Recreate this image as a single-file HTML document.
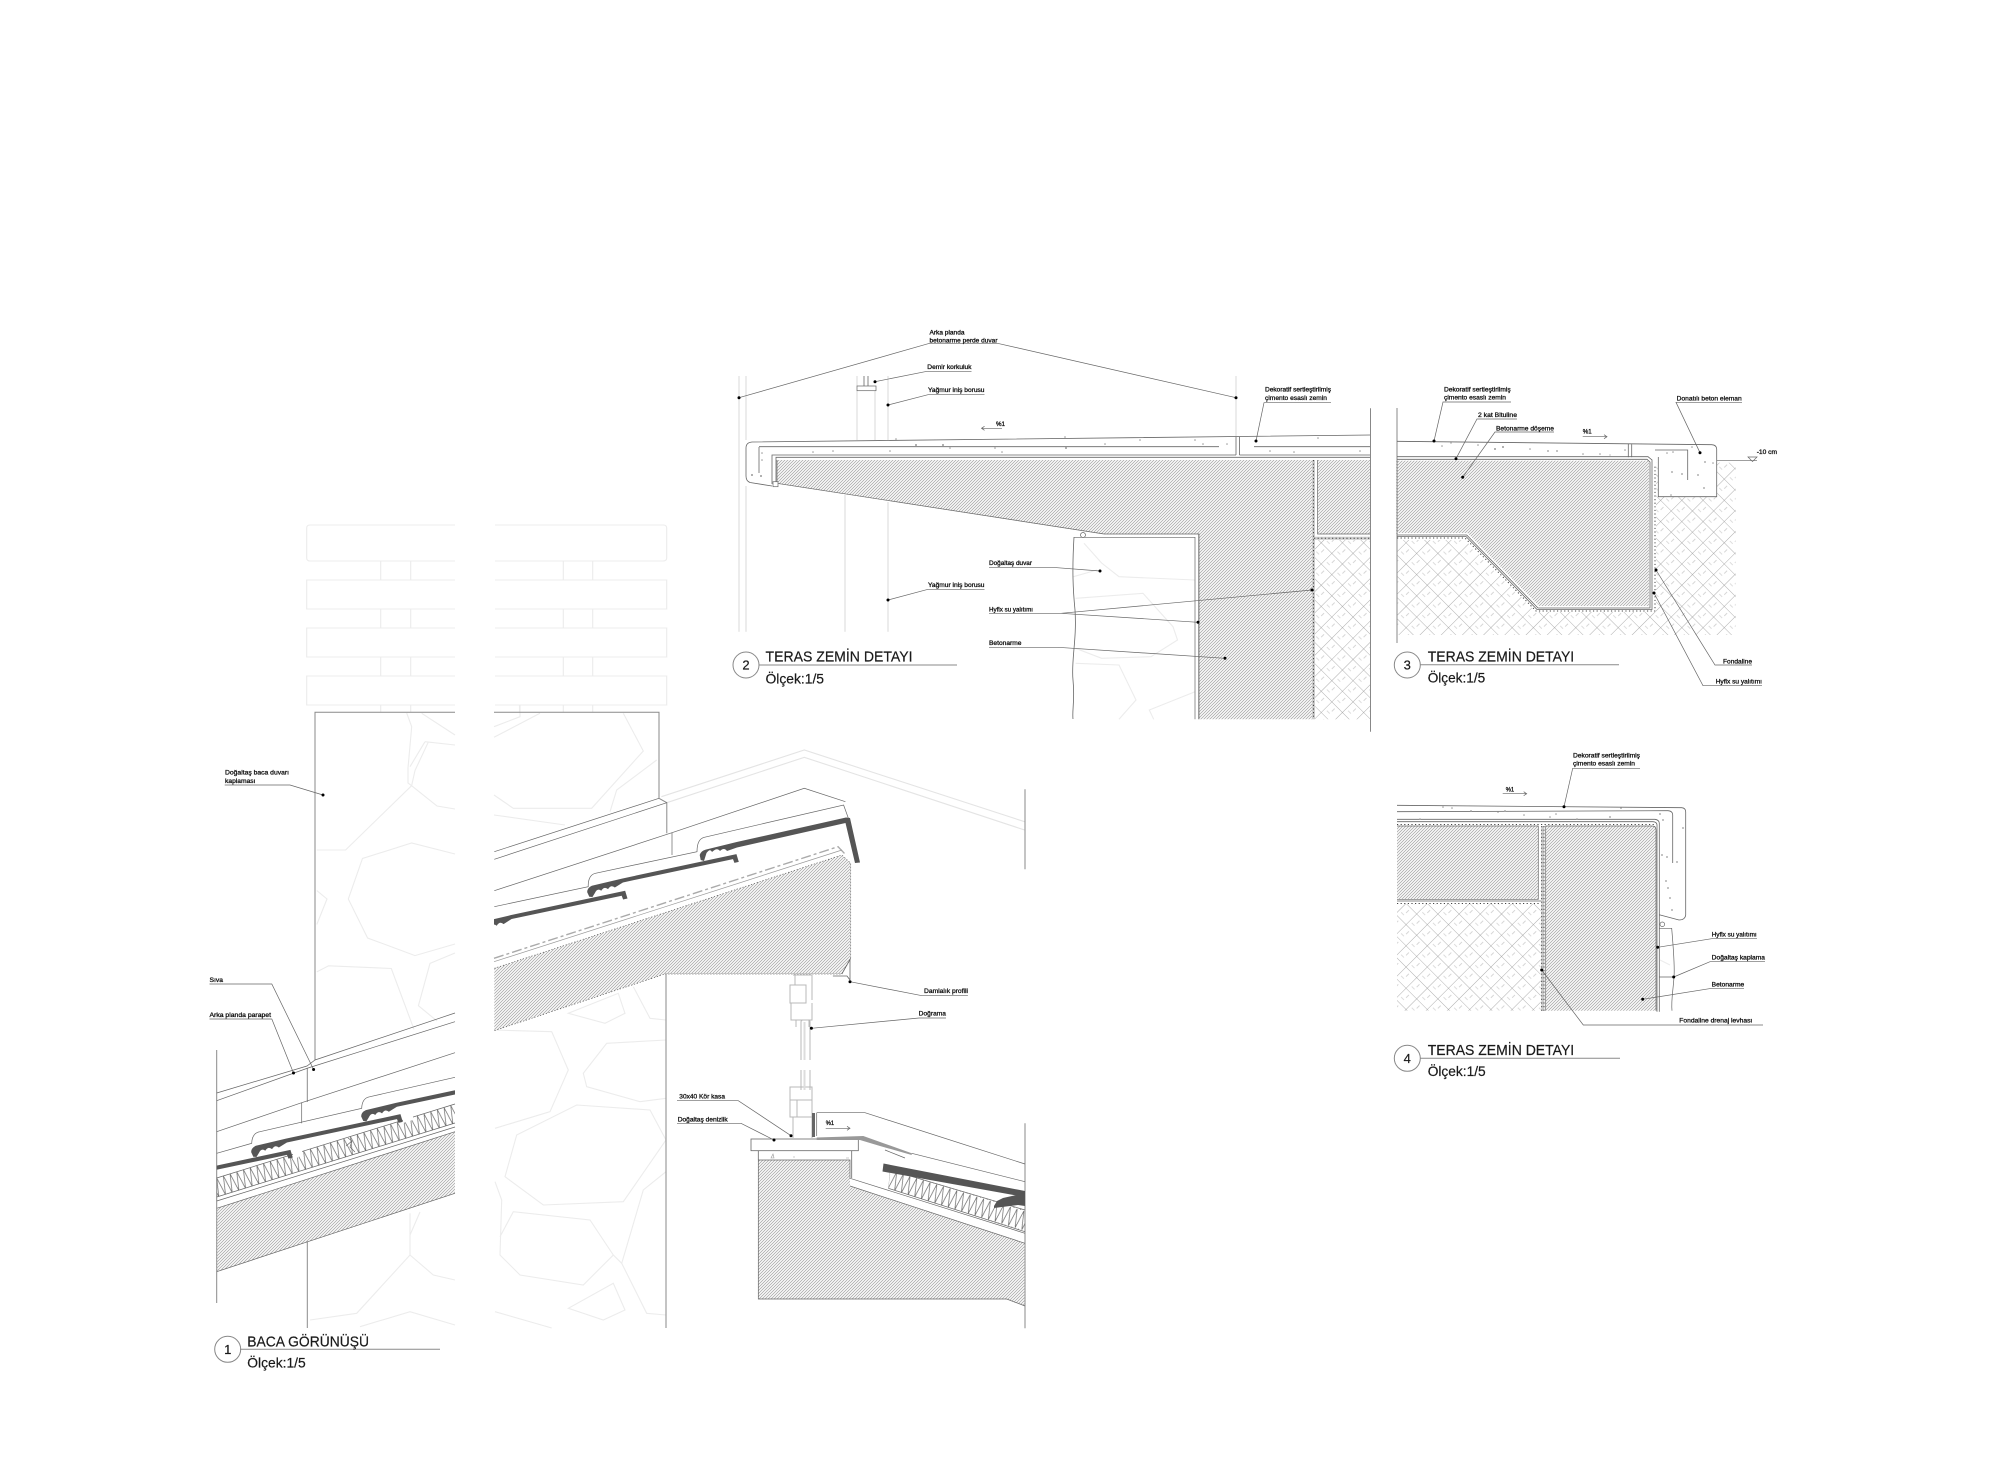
<!DOCTYPE html>
<html lang="tr"><head><meta charset="utf-8"><title>Detay</title>
<style>
html,body{margin:0;padding:0;background:#fff}
svg{display:block}
text{font-family:"Liberation Sans",sans-serif;fill:#111}
.t{font-size:6.6px;stroke:#111;stroke-width:.3px}
.h{font-size:15px;fill:#1a1a1a;stroke:#1a1a1a;stroke-width:.2px}
.s{font-size:13.7px;fill:#1a1a1a;stroke:#1a1a1a;stroke-width:.2px}
.n{font-size:13px;fill:#1a1a1a;text-anchor:middle;stroke:#1a1a1a;stroke-width:.2px}
.l{stroke:#666;stroke-width:.7;fill:none}
.g{stroke:#8a8a8a;stroke-width:1;fill:none}
.b{stroke:#666;stroke-width:.8;fill:none}
.f{stroke:#ececec;stroke-width:1.1;fill:none}
.d{stroke:#444;stroke-width:1;stroke-dasharray:1.2 2.4;fill:none}
.e{stroke:#ccc;stroke-width:3;fill:none}
.p{fill:#999}
</style></head><body>
<svg width="2000" height="1460" viewBox="0 0 2000 1460" xmlns="http://www.w3.org/2000/svg">
<defs>
<pattern id="hh" width="3" height="3" patternUnits="userSpaceOnUse"><path d="M-.75,.75L.75,-.75M0,3L3,0M2.25,3.75L3.75,2.25" stroke="#aaa" stroke-width=".8"/></pattern>
<pattern id="br" width="15" height="15" patternUnits="userSpaceOnUse" patternTransform="translate(1300,500) rotate(45)"><path d="M0,0H15M0,0V15" stroke="#999" stroke-width=".8" fill="none"/><path d="M7,3V7M3,10H7" stroke="#bbb" stroke-width=".6" fill="none"/></pattern>
<pattern id="zl" width="7" height="18.6" patternUnits="userSpaceOnUse" patternTransform="translate(216.7,1178) rotate(-17.2)"><path d="M0,0L3.5,18.6L7,0" stroke="#666" stroke-width=".7" fill="none"/></pattern>
<pattern id="zr" width="7" height="18.6" patternUnits="userSpaceOnUse" patternTransform="translate(890,1170) rotate(17)"><path d="M0,0L3.5,18.6L7,0" stroke="#666" stroke-width=".7" fill="none"/></pattern>
<clipPath id="cl"><rect x="216.7" y="1000" width="238.3" height="300"/></clipPath>
<clipPath id="cr"><rect x="494" y="780" width="360" height="200"/></clipPath>
<path id="tile" d="M0,0L-1,-5Q0,-9 5,-10L36,-10L153,-7L153.5,1L149,1L148.5,-3L36,-6L27,-3Q24,-7 20,-3Q17,-7 13,-3Q10,-7 6,-2L3,1Z" fill="#555"/>
</defs>

<!-- ===== DETAIL 1: chimney ===== -->
<g class="f">
<path d="M455,525H310Q306.7,525 306.7,528V558Q306.7,561 310,561H455M455,580H306.7V609H455M455,628H306.7V657H455M455,676H306.7V705H455"/>
<path d="M495,525H663Q666.7,525 666.7,528V558Q666.7,561 663,561H495M495,580H666.7V609H495M495,628H666.7V657H495M495,676H666.7V705H495"/>
<path d="M380.7,561V580M410.7,561V580M380.7,609V628M410.7,609V628M380.7,657V676M410.7,657V676M380.7,705V712M410.7,705V712"/>
<path d="M563.3,561V580M592.7,561V580M563.3,609V628M592.7,609V628M563.3,657V676M592.7,657V676M563.3,705V712M592.7,705V712M519.5,705V712"/>
<path d="M406.7,713L411.7,726.7L408,768L408,783L411.6,785.7M425,741.7L410,766.7M425,741.7L455,745M421.7,713.3L455,735"/>
<path d="M411.6,785.7L345.6,850L316.8,850M411.6,785.7L437,806L455,809M428.5,741.7L415,770.5L411.6,785.7"/>
<path d="M455,854L411.6,843L362.5,858.5L348.3,899L367.6,938L415,955.6L455,944"/>
<path d="M316.8,890.6L327,899L316.8,924.5M316.8,971.9L328.6,965.8L391.3,968.5L414,1029.4"/>
<path d="M455,953L430,963.4L418.4,1005.7L437,1021"/>
<path d="M410,1213.3L410,1255L433.3,1275L455,1280M420,1212L410,1235M410,1255L356.7,1313.3L310,1320M360,1326.7L410,1311.7L455,1325"/>
<path d="M494,726.7L520,716.7L520,705M494,737.3L540,713.3M623.3,713.3L643.3,751L591.7,808.3L513.3,808.3L494,795M656.7,760L616.7,790L610,811.7M494,815L565,825"/>
<path d="M495,1030L551.7,1031.7L568.3,1070L550,1111.7L495,1128.3"/>
<path d="M666,1040L606.7,1043.3L583.3,1073.3L586.7,1086.7L640,1101.7L666,1098.3"/>
<path d="M516.7,1135L576.7,1105L650,1110L666,1140L623.3,1201.7L543.3,1205L505,1176.7Z"/>
<path d="M495,1181.7L501.7,1200L500,1255L520,1275L583.3,1285L613.3,1255L590,1220L513.3,1211.7L500,1236.7"/>
<path d="M666,1171.7L643.3,1190L621.7,1263.3L646.7,1313.3L666,1315M621.7,1263.3L613.3,1255"/>
<path d="M568.3,1308.3L613.3,1283.3L625,1310L603.3,1320ZM495,1311.7L551.7,1328"/>
<path d="M568.3,1013.3L618.3,993.3L625,1013.3L605,1023.3ZM633.3,986.7L650,1018.3L666,1020"/>
<path d="M661.4,796.7L804.3,750L1024.6,821.7M666.8,802.7L804.3,757.3L1024.6,830" stroke="#e4e4e4"/>
</g>

<g class="g">
<path d="M455,712.3H315V1060M494,712.3H659V798.3L666.8,802.7V833.3"/>
<path d="M307.3,1068V1102M307.3,1241.7V1328M666,973.5V1328"/>
<path d="M216.7,1050V1303M1025,789.3V869.3M1025,1123.3V1328.3"/>
</g>

<!-- left roof piece -->
<path d="M216.7,1208.3L455,1131.7V1193.3L216.7,1271.7Z" fill="url(#hh)"/>
<path d="M216.7,1178L455,1104L455,1123L216.7,1197Z" fill="url(#zl)"/>
<path d="M216.7,1178L455,1104M216.7,1197L455,1123M216.7,1201L455,1127M216.7,1208.3L455,1131.7M216.7,1271.7L455,1193.3" class="l"/>
<path d="M293,1143L302,1140L302,1155L293,1160ZM403,1108L413,1105L413,1120L403,1123Z" fill="#fff"/>
<path d="M216.7,1093L307,1066L315,1060L455,1013M216.7,1100.7L308,1068L455,1021.7M216.7,1131.7L301.7,1102.7L455,1052.7M301.7,1102.7V1123.3M216.7,1153.3L251.7,1143.3Q252,1133 260,1131.7L361.7,1108.3Q362,1098 370,1096.7L455,1077.3" class="l"/>
<g clip-path="url(#cl)">
<use href="#tile" transform="translate(143.3,1192.4) rotate(-13.5)"/>
<use href="#tile" transform="translate(253.3,1156.7) rotate(-13.5)"/>
<use href="#tile" transform="translate(363.3,1121) rotate(-13.5)"/>
</g>
<path d="M348,1138L352,1141L350,1147L355,1152M352,1141L346,1146" class="l"/>

<!-- centre/right roof piece -->
<path d="M494.3,968.3L841.8,855L850.7,863.3V958.3L841.8,974H665L494.3,1030.7Z" fill="url(#hh)"/>
<path d="M494.3,968.3L841.8,855L850.7,863.3V958.3L841.8,974H665L494.3,1030.7" stroke="#555" stroke-width=".7" stroke-dasharray="1.2 1.8" fill="none"/>
<path d="M494,958.3L838,846.7L845,854" stroke="#aaa" stroke-width="1.4" stroke-dasharray="10 3 3 3" fill="none"/>
<path d="M494,961.7L842,850" stroke="#999" stroke-width=".7" fill="none"/>
<path d="M494.3,851.7L659,798.3M494.3,859.3L666.8,802.7M494.3,890.7L672,832.7L804.3,788.3L845.4,801.7M672,832.7V855M494.3,906.7L588.2,886.7Q588,875 595.4,873.3L697,851.7Q697,839 704.3,837.3L843.6,805L849,820" class="l"/>
<g clip-path="url(#cr)">
<use href="#tile" transform="translate(478,933.3) rotate(-13.5)"/>
<use href="#tile" transform="translate(589.3,896.7) rotate(-13.5)"/>
</g>
<path d="M700.7,860L699.7,855Q700.7,851 705.7,849.6L736.7,842L846,817.5L850,818L860,862.5L855,863L845.5,823L737,847.5L727,851Q724,847 720,851Q717,847 712,852Q710,848 706.5,853L704,861Z" fill="#555"/>
<path d="M850,960V980M832.9,976H847L850,980M841.8,974L850.7,958.3" class="b"/>
<!-- window -->
<g stroke="#b8b8b8" stroke-width="1" fill="none">
<path d="M793,975H812M795,975V985M812,975V1000M790,985H806V1003H790ZM791,1003V1020H812V1003M796,1020V1027M809,1020V1027"/>
<path d="M801,1022Q801,1020 803,1020H808Q810,1020 810,1022V1060M801,1022V1060M801,1070V1090M810,1070V1090"/>
<path d="M790,1087H812V1100H790ZM790,1100V1117H812V1100M793,1117H812V1138M793,1117V1138M797,1100V1117"/>
</g>
<path d="M804.5,1022V1060M804.5,1070V1090" stroke="#ddd" stroke-width="2" fill="none"/>
<!-- sill -->
<path d="M758.3,1160H850V1186.7L1025,1243.3V1306L1006.7,1299H758.3Z" fill="url(#hh)"/>
<path d="M758.3,1160H850V1178.3L1025,1233.3M850,1186L1025,1243.3M758.3,1160V1299H1006.7L1025,1306" class="l"/>
<rect x="751" y="1139" width="107.3" height="11.7" fill="#fff" stroke="#666" stroke-width=".8"/>
<path d="M758.3,1150.7V1160M851.7,1150.7V1178" class="b"/>
<path d="M771,1158l2,-4l1,4zM793,1157h2M846,1158h3" stroke="#999" stroke-width=".6" fill="none"/>
<path d="M890,1170L1025,1210L1025,1231.7L888.3,1188.3Z" fill="url(#zr)"/>
<path d="M890,1170L1025,1210M888.3,1188.3L1025,1231.7" class="l"/>
<path d="M883.5,1163.5L1025,1191V1197L882.5,1171.5Z" fill="#555"/>
<path d="M994,1206L997,1201L1003,1198L1025,1193V1206L1018,1205L994,1208Z" fill="#555"/>
<path d="M812,1113H815V1137H812Z" fill="#666"/>
<path d="M816.7,1137.5L863.3,1136L911.7,1153.3L911.7,1155L880,1146L860,1140L816.7,1140Z" fill="#999"/>
<path d="M816.7,1112.7H865L1025,1164M816.7,1112.7V1136M911.7,1153.3L1025,1181.7M885,1150L905,1158" class="l"/>

<!-- labels detail 1 -->
<g class="l">
<path d="M224.7,785H290L323,795"/>
<path d="M209.5,984H271.8L313.6,1069.5"/>
<path d="M209.5,1019H271.8L293.5,1073"/>
<path d="M967.9,995.7H922L850,981.7"/>
<path d="M946,1018H919L811.4,1028.3"/>
<path d="M677,1100.7H738.3L791,1135.7"/>
<path d="M677,1123.3H741L774,1140"/>
<path d="M825.7,1128.3H850M847,1126.3L850,1128.3L847,1130.3"/>
</g>
<g fill="#000">
<circle cx="323" cy="795" r="1.5"/><circle cx="313.6" cy="1069.5" r="1.5"/><circle cx="293.5" cy="1073" r="1.5"/>
<circle cx="850" cy="981.7" r="1.5"/><circle cx="811.4" cy="1028.3" r="1.5"/><circle cx="791" cy="1135.7" r="1.5"/><circle cx="774" cy="1140" r="1.5"/>
</g>
<text class="t" x="225" y="774.5" textLength="64" lengthAdjust="spacingAndGlyphs">Doğaltaş baca duvarı</text>
<text class="t" x="225" y="783" textLength="30.5" lengthAdjust="spacingAndGlyphs">kaplaması</text>
<text class="t" x="209.5" y="982" textLength="13.5" lengthAdjust="spacingAndGlyphs">Sıva</text>
<text class="t" x="209.5" y="1017" textLength="61.5" lengthAdjust="spacingAndGlyphs">Arka planda parapet</text>
<text class="t" x="924" y="993" textLength="44" lengthAdjust="spacingAndGlyphs">Damlalık profili</text>
<text class="t" x="918.7" y="1015.7" textLength="27.3" lengthAdjust="spacingAndGlyphs">Doğrama</text>
<text class="t" x="679.3" y="1098.5" textLength="45.7" lengthAdjust="spacingAndGlyphs">30x40 Kör kasa</text>
<text class="t" x="677.7" y="1121.7" textLength="50" lengthAdjust="spacingAndGlyphs">Doğaltaş denizlik</text>
<text class="t" x="825.7" y="1125" textLength="8.4" lengthAdjust="spacingAndGlyphs">%1</text>
<circle cx="227.7" cy="1349.3" r="13" fill="#fff" stroke="#888"/>
<text class="n" x="227.7" y="1354">1</text>
<path d="M240,1349.3H440" class="g"/>
<text class="h" x="247.3" y="1346.7" textLength="121.7" lengthAdjust="spacingAndGlyphs">BACA GÖRÜNÜŞÜ</text>
<text class="s" x="247.3" y="1367.3" textLength="58.4" lengthAdjust="spacingAndGlyphs">Ölçek:1/5</text>

<!-- ===== DETAIL 2 ===== -->
<g class="f">
<path d="M1084,543.3L1101.6,563L1119,576.7L1195,580M1073.4,576.7L1097,570M1075.6,598.3L1143,593.3L1173,626.7L1177.5,640L1151,656.7L1101.6,658.3L1075.6,648.3M1075.6,663.3L1119,665L1136,700L1119,719.3M1195,691.7L1149.3,710L1153.7,719.3"/>
</g>
<g stroke="#d4d4d4" stroke-width=".9" fill="none">
<path d="M739,376V631.7M746,376V440M746,486V631.7M845,495V631.7M857,376V386M857,391V440M875,390V440M888,376V440M888,502V631.7M1236,376V436.7"/>
</g>
<path d="M864,376V386M868,376V386" class="b"/>
<rect x="857" y="386" width="19" height="4.7" fill="#fff" stroke="#666" stroke-width=".7"/>
<path d="M777,460H1312V719.3H1199V534H1104L777,483.3Z" fill="url(#hh)"/>
<path d="M1317.6,460H1370.5V534H1317.6Z" fill="url(#hh)"/>
<rect x="1315" y="540" width="55.5" height="179.3" fill="url(#br)"/>
<path d="M1370.5,435L752,442Q746,442.5 746,448V476Q746,481 750,482.5L772,486M759,447V473M759,446.7L1219,446.7M1254,446.7H1370.5M772,484V455H1236M1239.5,455H1370.5M776,484V457.3H1370.5M1236,437V455M1239.5,437V455" class="b"/>
<path d="M777,460L777,483.3L1104,534H1199V719.3M1317.6,460V534H1370.5M1074,537.3H1195V719.3M1198.7,534V719.3" class="l"/>
<path d="M1313.5,460V719.3M1314,538.3H1370.5" class="e"/>
<path d="M1313.5,460V719.3M1314,538.3H1370.5" class="d"/>
<path d="M1074,537C1072,570 1073,590 1075,610C1077,640 1071,660 1073,680C1075,700 1072,710 1073,719" class="b"/>
<circle cx="1083" cy="535" r="2.5" fill="#fff" stroke="#666" stroke-width=".7"/>
<rect x="773" y="481.7" width="5" height="5" fill="#fff" stroke="#666" stroke-width=".7"/>
<path d="M1370.5,408.3V731.7" stroke="#888" fill="none"/>
<g class="p">
<circle cx="762" cy="453" r=".8"/><circle cx="762" cy="460" r=".8"/><circle cx="752" cy="475" r="1"/><circle cx="761" cy="476" r="1"/><circle cx="813" cy="452" r=".8"/><circle cx="890" cy="451" r=".8"/>
<circle cx="896" cy="439" r=".8"/><circle cx="916" cy="445" r="1"/><circle cx="943" cy="445" r="1"/><circle cx="950" cy="448" r=".8"/><circle cx="995" cy="448" r=".8"/><circle cx="1002" cy="452" r=".8"/>
<circle cx="1065" cy="437" r=".8"/><circle cx="1066" cy="448" r="1"/><circle cx="1105" cy="444" r=".8"/><circle cx="1140" cy="440" r=".8"/><circle cx="1195" cy="440" r=".8"/><circle cx="1203" cy="444" r=".8"/>
<circle cx="1227" cy="444" r=".8"/><circle cx="1270" cy="451" r=".8"/><circle cx="1294" cy="452" r=".8"/><circle cx="1318" cy="438" r=".8"/><circle cx="1360" cy="451" r=".8"/><circle cx="833" cy="451" r=".8"/>
</g>
<g class="l">
<path d="M739,397.7L929.5,343.3H997.5L1236,397.7"/>
<path d="M875,381.7L927,371.3H971.5"/>
<path d="M888,405L928,394.7H984.5"/>
<path d="M1002,428.3H981.5M984.5,426.3L981.5,428.3L984.5,430.3"/>
<path d="M1256,441L1264,402.7H1331"/>
<path d="M989,567.3H1052L1100,571"/>
<path d="M989,613.3H1061L1312,590M1061,613.3L1198,622.3"/>
<path d="M989,647.3H1058L1225,658.3"/>
<path d="M888,600L928,589.3H984.5"/>
</g>
<g fill="#000">
<circle cx="739" cy="397.7" r="1.5"/><circle cx="1236" cy="397.7" r="1.5"/><circle cx="875" cy="381.7" r="1.5"/><circle cx="888" cy="405" r="1.5"/><circle cx="1256" cy="441" r="1.5"/>
<circle cx="1100" cy="571" r="1.5"/><circle cx="1312" cy="590" r="1.5"/><circle cx="1198" cy="622.3" r="1.5"/><circle cx="1225" cy="658.3" r="1.5"/><circle cx="888" cy="600" r="1.5"/>
</g>
<text class="t" x="929.5" y="334.5" textLength="35" lengthAdjust="spacingAndGlyphs">Arka planda</text>
<text class="t" x="929.5" y="342.5" textLength="68" lengthAdjust="spacingAndGlyphs">betonarme perde duvar</text>
<text class="t" x="927.3" y="369.2" textLength="44.2" lengthAdjust="spacingAndGlyphs">Demir korkuluk</text>
<text class="t" x="928" y="392.2" textLength="56.5" lengthAdjust="spacingAndGlyphs">Yağmur iniş borusu</text>
<text class="t" x="996" y="426.2" textLength="9" lengthAdjust="spacingAndGlyphs">%1</text>
<text class="t" x="1265" y="391.5" textLength="66" lengthAdjust="spacingAndGlyphs">Dekoratif sertleştirilmiş</text>
<text class="t" x="1265" y="399.8" textLength="62" lengthAdjust="spacingAndGlyphs">çimento esaslı zemin</text>
<text class="t" x="989" y="565.2" textLength="43" lengthAdjust="spacingAndGlyphs">Doğaltaş duvar</text>
<text class="t" x="989" y="611.5" textLength="44" lengthAdjust="spacingAndGlyphs">Hyflx su yalıtımı</text>
<text class="t" x="989" y="645.2" textLength="32.5" lengthAdjust="spacingAndGlyphs">Betonarme</text>
<text class="t" x="928" y="587.2" textLength="56.5" lengthAdjust="spacingAndGlyphs">Yağmur iniş borusu</text>
<circle cx="746" cy="665" r="13" fill="#fff" stroke="#888"/>
<text class="n" x="746" y="669.7">2</text>
<path d="M759,665H957" class="g"/>
<text class="h" x="765.5" y="661.7" textLength="147" lengthAdjust="spacingAndGlyphs">TERAS ZEMİN DETAYI</text>
<text class="s" x="765.5" y="683.3" textLength="58.5" lengthAdjust="spacingAndGlyphs">Ölçek:1/5</text>

<!-- ===== DETAIL 3 ===== -->
<rect x="1397" y="462.7" width="338.7" height="172.3" fill="url(#br)"/>
<path d="M1397,441.3L1711.7,444.7Q1716.7,445 1716.7,449.3V496.7H1658.3V461H1397Z" fill="#fff"/>
<path d="M1397,456H1656V612H1536L1465,540H1397Z" fill="#fff"/>
<path d="M1397,460.7H1649V606H1539L1467.5,533H1397Z" fill="url(#hh)"/>
<path d="M1397,408V643" class="g"/>
<path d="M1397,441.3L1711.7,444.7Q1716.7,445 1716.7,449.3V496.7H1658.3V457M1397,456.7H1648L1652,460V609.5H1537L1466,536.5H1397M1397,459.3H1647L1650,462V608H1538L1466.7,535H1397M1628.3,444V457.3M1631.7,444V457.3M1655,450H1687.7V480" class="b"/>
<path d="M1397,538H1465L1536,611H1655V465" class="d"/>
<path d="M1397,461V535" stroke="#444" stroke-width=".7" stroke-dasharray="1 2" fill="none"/>
<path d="M1716.7,460.7H1757M1748,457H1757L1752.5,461.5Z" class="l"/>
<g class="p">
<circle cx="1442" cy="446" r=".8"/><circle cx="1451" cy="443" r=".7"/><circle cx="1478" cy="445" r=".8"/><circle cx="1495" cy="449" r="1"/><circle cx="1503" cy="447" r="1"/><circle cx="1530" cy="449" r=".8"/><circle cx="1548" cy="451" r=".9"/><circle cx="1557" cy="451" r=".9"/>
<circle cx="1583" cy="454" r=".8"/><circle cx="1600" cy="454" r=".8"/><circle cx="1610" cy="455" r=".6"/><circle cx="1625" cy="450" r=".8"/><circle cx="1667" cy="453" r=".8"/><circle cx="1673" cy="452" r=".8"/><circle cx="1672" cy="472" r=".9"/><circle cx="1682" cy="474" r=".9"/>
<circle cx="1698" cy="475" r=".9"/><circle cx="1705" cy="462" r=".9"/><circle cx="1704" cy="488" r=".9"/><circle cx="1671" cy="495" r=".8"/><circle cx="1692" cy="447" r=".8"/><circle cx="1713" cy="463" r=".8"/>
</g>
<g class="l">
<path d="M1434,441L1443,402H1511"/>
<path d="M1456,458.7L1477,419H1517"/>
<path d="M1462.7,477.3L1495,432H1554"/>
<path d="M1582.7,436.7H1607M1604,434.7L1607,436.7L1604,438.7"/>
<path d="M1700,452.7L1676,402.3H1742"/>
<path d="M1656,570L1715,665H1752"/>
<path d="M1654,593L1703,685.7H1762"/>
</g>
<g fill="#000">
<circle cx="1434" cy="441" r="1.5"/><circle cx="1456" cy="458.7" r="1.5"/><circle cx="1462.7" cy="477.3" r="1.5"/><circle cx="1700" cy="452.7" r="1.5"/><circle cx="1656" cy="570" r="1.5"/><circle cx="1654" cy="593" r="1.5"/>
</g>
<text class="t" x="1444" y="391.5" textLength="66.7" lengthAdjust="spacingAndGlyphs">Dekoratif sertleştirilmiş</text>
<text class="t" x="1444" y="399.5" textLength="62" lengthAdjust="spacingAndGlyphs">çimento esaslı zemin</text>
<text class="t" x="1478" y="417" textLength="39" lengthAdjust="spacingAndGlyphs">2 kat Bituline</text>
<text class="t" x="1496" y="430.3" textLength="58" lengthAdjust="spacingAndGlyphs">Betonarme döşeme</text>
<text class="t" x="1582.7" y="433.5" textLength="9" lengthAdjust="spacingAndGlyphs">%1</text>
<text class="t" x="1676.7" y="400.3" textLength="65" lengthAdjust="spacingAndGlyphs">Donatılı beton eleman</text>
<text class="t" x="1756.7" y="454" textLength="20.3" lengthAdjust="spacingAndGlyphs">-10 cm</text>
<text class="t" x="1723" y="663.3" textLength="29" lengthAdjust="spacingAndGlyphs">Fondaline</text>
<text class="t" x="1715.7" y="683.6" textLength="46.3" lengthAdjust="spacingAndGlyphs">Hyflx su yalıtımı</text>
<circle cx="1407.3" cy="665" r="13" fill="#fff" stroke="#888"/>
<text class="n" x="1407.3" y="669.7">3</text>
<path d="M1420,664.7H1619" class="g"/>
<text class="h" x="1427.7" y="661.7" textLength="146.5" lengthAdjust="spacingAndGlyphs">TERAS ZEMİN DETAYI</text>
<text class="s" x="1427.7" y="682.7" textLength="57.5" lengthAdjust="spacingAndGlyphs">Ölçek:1/5</text>

<!-- ===== DETAIL 4 ===== -->
<rect x="1397" y="904" width="143.7" height="106.7" fill="url(#br)"/>
<rect x="1397" y="826" width="141.3" height="73.3" fill="url(#hh)"/>
<rect x="1545.7" y="826" width="110.3" height="184.7" fill="url(#hh)"/>
<path d="M1397,805.3L1681.7,807.7Q1685.7,808 1685.7,812V915Q1685,920 1679,920L1659.3,914.7M1397,811.7L1668,810.7Q1672.7,811 1672.7,815V863M1397,819.3H1655Q1659.3,820 1659.3,823.3V1011.7M1397,821.7H1653Q1657,822 1657,825V1011.7" class="b"/>
<path d="M1397,826H1538.3V899.3H1397M1397,901H1541M1545.7,1010.7V826H1652Q1656,826 1656,830V1010.7" class="l"/>
<path d="M1542.8,826V1011" class="e"/>
<path d="M1541.7,826V1011M1544,826V1011M1397,903.5H1541M1397,824.5H1655" class="d"/>
<circle cx="1662.3" cy="924.3" r="2.3" fill="#fff" stroke="#666" stroke-width=".7"/>
<path d="M1659.3,928.3H1671.7C1673,945 1675,965 1674,977C1673,992 1671,1000 1672,1010.7M1659.3,977H1673" class="l"/>
<path d="M1660,960L1670,965" class="f"/>
<g class="p">
<circle cx="1443" cy="807" r=".8"/><circle cx="1452" cy="808" r=".8"/><circle cx="1471" cy="811" r=".9"/><circle cx="1498" cy="812" r=".8"/><circle cx="1505" cy="811" r=".9"/><circle cx="1524" cy="815" r=".8"/><circle cx="1550" cy="817" r=".8"/><circle cx="1556" cy="814" r=".8"/><circle cx="1577" cy="819" r=".7"/>
<circle cx="1610" cy="817" r=".9"/><circle cx="1621" cy="808" r=".9"/><circle cx="1660" cy="814" r=".9"/><circle cx="1663" cy="820" r=".9"/><circle cx="1683" cy="828" r=".9"/><circle cx="1677" cy="862" r=".9"/><circle cx="1662" cy="855" r=".9"/><circle cx="1667" cy="857" r=".9"/>
<circle cx="1666" cy="881" r=".9"/><circle cx="1668" cy="888" r=".9"/><circle cx="1670" cy="898" r=".9"/><circle cx="1672" cy="910" r=".9"/><circle cx="1420" cy="819" r=".8"/>
</g>
<g class="l">
<path d="M1564,806.7L1572.7,768.3H1640"/>
<path d="M1502.7,793.7H1526.7M1523.7,791.7L1526.7,793.7L1523.7,795.7"/>
<path d="M1657.7,947.3L1711.7,938.7H1757"/>
<path d="M1673.7,977L1710,961.7H1765"/>
<path d="M1642.7,999.3L1711.7,988.3H1744"/>
<path d="M1541.7,970L1583.3,1025H1763"/>
</g>
<g fill="#000">
<circle cx="1564" cy="806.7" r="1.5"/><circle cx="1657.7" cy="947.3" r="1.5"/><circle cx="1673.7" cy="977" r="1.5"/><circle cx="1642.7" cy="999.3" r="1.5"/><circle cx="1541.7" cy="970" r="1.5"/>
</g>
<text class="t" x="1573" y="757.5" textLength="67" lengthAdjust="spacingAndGlyphs">Dekoratif sertleştirilmiş</text>
<text class="t" x="1573" y="765.5" textLength="62" lengthAdjust="spacingAndGlyphs">çimento esaslı zemin</text>
<text class="t" x="1505.7" y="791.3" textLength="8.5" lengthAdjust="spacingAndGlyphs">%1</text>
<text class="t" x="1711.7" y="936.3" textLength="45" lengthAdjust="spacingAndGlyphs">Hyflx su yalıtımı</text>
<text class="t" x="1711.7" y="959.7" textLength="53.3" lengthAdjust="spacingAndGlyphs">Doğaltaş kaplama</text>
<text class="t" x="1711.7" y="986.6" textLength="32.5" lengthAdjust="spacingAndGlyphs">Betonarme</text>
<text class="t" x="1679.3" y="1022.4" textLength="73" lengthAdjust="spacingAndGlyphs">Fondaline drenaj levhası</text>
<circle cx="1407.3" cy="1058.3" r="13" fill="#fff" stroke="#888"/>
<text class="n" x="1407.3" y="1063">4</text>
<path d="M1420,1058.3H1620" class="g"/>
<text class="h" x="1427.7" y="1055" textLength="146.5" lengthAdjust="spacingAndGlyphs">TERAS ZEMİN DETAYI</text>
<text class="s" x="1427.7" y="1076" textLength="58" lengthAdjust="spacingAndGlyphs">Ölçek:1/5</text>
</svg>
</body></html>
